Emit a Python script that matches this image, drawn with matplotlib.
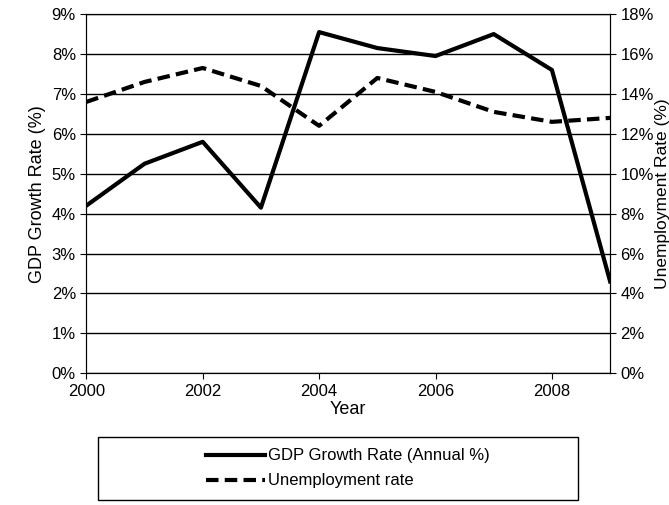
import matplotlib
matplotlib.use("Agg")
import matplotlib.pyplot as plt
from matplotlib.patches import Rectangle
from matplotlib.ticker import FuncFormatter

plt.rcParams["font.family"] = ["Liberation Sans", "DejaVu Sans"]

years = list(range(2000, 2010))
gdp = [4.2, 5.25, 5.8, 4.15, 8.55, 8.15, 7.95, 8.5, 7.6, 2.3]
unemp = [13.6, 14.6, 15.3, 14.4, 12.4, 14.8, 14.1, 13.1, 12.6, 12.8]

fig = plt.figure(figsize=(6.69, 5.05), dpi=100)
ax = fig.add_axes([0.129, 0.261, 0.783, 0.711])
ax2 = ax.twinx()

l1, = ax.plot(years, gdp, color="black", linewidth=3, label="GDP Growth Rate (Annual %)")
l2, = ax2.plot(years, unemp, color="black", linewidth=3, linestyle=(0, (3, 1.5)), label="Unemployment rate")

ax.set_xlim(2000, 2009)
ax.set_ylim(0, 9)
ax2.set_ylim(0, 18)
ax.set_yticks(range(0, 10))
ax2.set_yticks(range(0, 19, 2))
ax.set_xticks(range(2000, 2010, 2))
ax.yaxis.set_major_formatter(FuncFormatter(lambda v, p: f"{v:.0f}%"))
ax2.yaxis.set_major_formatter(FuncFormatter(lambda v, p: f"{v:.0f}%"))
ax.grid(axis="y", color="black", linewidth=1)
ax.set_axisbelow(True)
for a in (ax, ax2):
    a.tick_params(labelsize=12, length=4)
    for s in a.spines.values():
        s.set_color("black")
ax.set_xlabel("Year", fontsize=13, labelpad=2)
ax.set_ylabel("GDP Growth Rate (%)", fontsize=13, labelpad=4)
ax2.set_ylabel("Unemployment Rate (%)", fontsize=12.5, labelpad=1)

fig.patches.append(Rectangle((0.146, 0.01), 0.718, 0.125, transform=fig.transFigure,
                             fill=False, edgecolor="black", linewidth=1))
leg = fig.legend(handles=[l1, l2], loc="center", bbox_to_anchor=(0.52, 0.0725),
                 fontsize=12, frameon=False, handlelength=3.5,
                 labelspacing=0.6, handletextpad=0.2)
fig.savefig("out.png", dpi=100)
